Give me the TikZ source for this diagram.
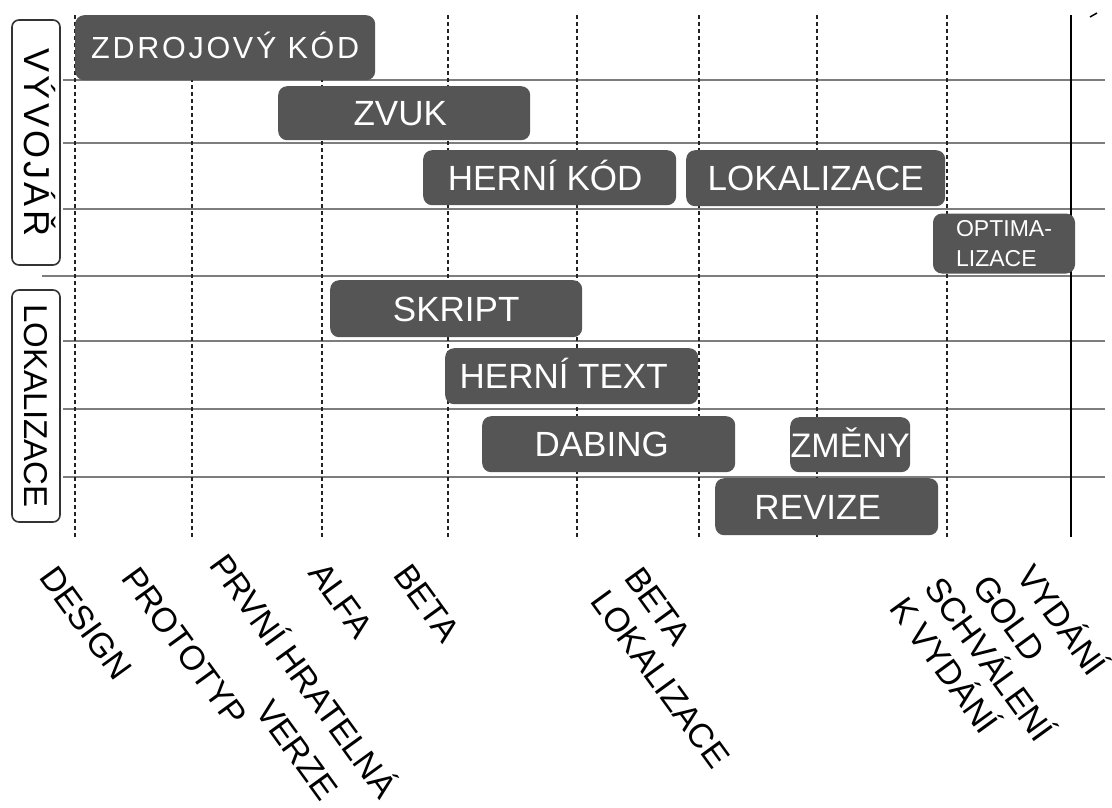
\documentclass[tikz,border=0pt]{standalone}
\usepackage{fontspec}
\setmainfont{Liberation Sans}
\newfontfamily\widefont[LetterSpace=9]{Liberation Sans}
\definecolor{barcol}{RGB}{85,85,85}
\definecolor{gridcol}{RGB}{125,125,125}
\definecolor{dashcol}{RGB}{35,35,35}
\begin{document}
\begin{tikzpicture}[x=1pt,y=-1pt,
  bar/.style={fill=barcol, rounded corners=9pt, text=white, inner sep=0pt, anchor=north west,
    font=\fontsize{35}{35}\selectfont, text height=25pt, text depth=0pt},
  gridline/.style={draw=gridcol, line width=1.8pt},
  phase/.style={draw=dashcol, line width=2.6pt, dash pattern=on 4pt off 3pt},
  side/.style={draw=black!80, line width=1.6pt, rounded corners=7pt, rotate=-90, inner sep=0pt,
    minimum height=48pt, text height=24pt, text depth=0pt},
  mile/.style={rotate=-54, anchor=base west, inner sep=0pt, font=\fontsize{34}{34}\selectfont}
]
\useasboundingbox[fill=white] (0,0) rectangle (1112,807);

% grid rows
\foreach \yy in {80,143,209,341,409,477}{\draw[gridline] (63,\yy) -- (1105,\yy);}
\draw[gridline] (42,276) -- (1105,276);

% phase lines
\foreach \xx in {75,192,322,448,577,699,817,947}{\draw[phase] (\xx,15) -- (\xx,537);}
\draw[line width=2.6pt] (1071,15) -- (1071,537);
\draw[line width=1.5pt] (1090,17) -- (1097,13);

% bars
\node[bar, minimum width=300pt, minimum height=65pt, font=\fontsize{30.5}{30.5}\widefont, text height=22pt] (zdroj) at (75,15) {ZDROJOVÝ KÓD};
\node[bar, minimum width=252pt, minimum height=54pt] (zvuk) at (278,86) {\hspace*{-8pt}ZVUK};
\node[bar, minimum width=253pt, minimum height=55pt] (hkod) at (423,150) {\hspace*{-9pt}HERNÍ KÓD};
\node[bar, minimum width=259pt, minimum height=56pt] (lokb) at (686,150) {LOKALIZACE};
\node[fill=barcol, rounded corners=9pt, text=white, inner sep=0pt, minimum width=142pt, minimum height=60pt,
  font=\fontsize{23}{30}\selectfont, align=left] (optim) at (1004,243.5) {OPTIMA-\\LIZACE};
\node[bar, minimum width=252pt, minimum height=57pt] (skript) at (330,280) {SKRIPT};
\node[bar, minimum width=253pt, minimum height=56pt] (htext) at (445,348) {\hspace*{-16pt}HERNÍ TEXT};
\node[bar, minimum width=253pt, minimum height=56pt] (dabing) at (482,416) {\hspace*{-14pt}DABING};
\node[bar, minimum width=120pt, minimum height=55pt, font=\fontsize{34}{34}\selectfont] (zmeny) at (790,417) {ZMĚNY};
\node[bar, minimum width=223pt, minimum height=57pt] (revize) at (715,478) {\hspace*{-18pt}REVIZE};

% side labels
\node[side, minimum width=245pt, font=\fontsize{36}{36}\widefont] (vyv) at (36,142.5) {VÝVOJÁŘ};
\node[side, minimum width=232pt, font=\fontsize{33}{33}\selectfont] (lok) at (36,406) {LOKALIZACE};

% milestones
\node[mile] (design) at (38,577) {DESIGN};
\node[mile] (proto) at (120,578) {PROTOTYP};
\node[mile] (prvni) at (208,565) {PRVNÍ HRATELNÁ};
\node[mile] (verze) at (254,711) {VERZE};
\node[mile] (alfa) at (307,573) {ALFA};
\node[mile] (beta) at (392,575) {BETA};
\node[mile] (betal) at (623,578) {BETA};
\node[mile] (lokal) at (589,601) {LOKALIZACE};
\node[mile] (vydani) at (1015,576) {VYDÁNÍ};
\node[mile] (gold) at (971,586) {GOLD};
\node[mile] (schval) at (923,588) {SCHVÁLENÍ};
\node[mile] (kvyd) at (888,608) {K VYDÁNÍ};
\end{tikzpicture}
\end{document}
